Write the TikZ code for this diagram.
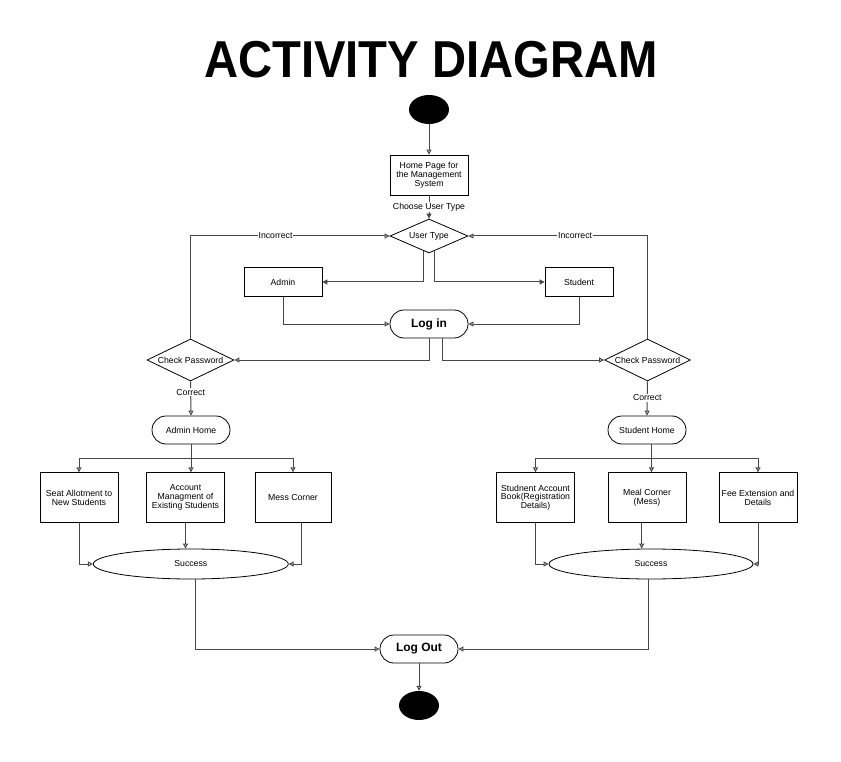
\documentclass[tikz,border=0pt]{standalone}
\usepackage{fontspec}
\setmainfont{Liberation Sans}
\usetikzlibrary{shapes.geometric,arrows.meta}

\begin{document}
\begin{tikzpicture}[x=1pt,y=-1pt,
  every node/.style={align=center, inner sep=0pt, font=\fontsize{8.7}{8.8}\selectfont},
  box/.style={draw=black, line width=0.8pt, rectangle},
  pill/.style={draw=black, line width=0.8pt, rectangle, rounded corners=14pt, minimum width=78pt, minimum height=28pt},
  decision/.style={draw=black, line width=0.8pt, diamond},
  oval/.style={draw=black, line width=0.8pt, ellipse, minimum height=30pt},
  dot/.style={fill=black, ellipse, minimum width=40pt, minimum height=29pt},
  conn/.style={draw=black!72, line width=1pt},
  opentip/.style={-{Triangle[open,length=5pt,width=5pt]}},
  filltip/.style={-{Triangle[length=5pt,width=5pt]}},
  lbl/.style={fill=white, inner sep=1pt}
]
% canvas
\fill[white] (0,0) rectangle (841,762);
\useasboundingbox (0,0) rectangle (841,762);

% heading
\node (title) at (431,60) {\scalebox{1}[1.1]{\fontsize{47.2}{47.2}\selectfont\bfseries ACTIVITY DIAGRAM}};

% top part
\node[dot] (start) at (429,109.5) {};
\node[box, minimum width=78pt, minimum height=40pt] (home) at (429,175) {Home Page for\\the Management\\System};
\node[decision, minimum width=78pt, minimum height=34pt, label=center:User Type] (utype) at (429,236) {};
\node[box, minimum width=78pt, minimum height=28.5pt] (admin) at (283,282) {Admin};
\node[box, minimum width=68pt, minimum height=28.5pt] (student) at (579,282) {Student};
\node[pill, font=\fontsize{12}{12}\selectfont\bfseries] (login) at (429,324) {Log in};
\node[decision, minimum width=87pt, minimum height=42pt, label=center:Check Password] (cpL) at (190.5,360) {};
\node[decision, minimum width=86pt, minimum height=42pt, label=center:Check Password] (cpR) at (647.5,360) {};

% admin side
\node[pill] (adminHome) at (191,430) {Admin Home};
\node[box, minimum width=78pt, minimum height=50pt] (seat) at (79,497.7) {Seat Allotment to\\New Students};
\node[box, minimum width=78pt, minimum height=50pt] (account) at (185.5,497.7) {Account\\Managment of\\Existing Students};
\node[box, minimum width=76pt, minimum height=50pt] (mess) at (293,497.7) {Mess Corner};
\node[oval, minimum width=195pt] (lsucc) at (190.8,564) {Success};

% student side
\node[pill] (studentHome) at (647,430) {Student Home};
\node[box, minimum width=78pt, minimum height=50pt] (studacc) at (535.5,497.7) {Studnent Account\\Book(Registration\\Details)};
\node[box, minimum width=78pt, minimum height=50pt] (meal) at (647,497.7) {Meal Corner\\(Mess)};
\node[box, minimum width=78pt, minimum height=50pt] (fee) at (758,497.7) {Fee Extension and\\Details};
\node[oval, minimum width=204pt] (rsucc) at (651,564) {Success};

% bottom part
\node[pill, font=\fontsize{12}{12}\selectfont\bfseries] (logout) at (419,649) {Log Out};
\node[dot] (finish) at (419,705.5) {};

% helper points for off-centre connector ends
\coordinate (shOut) at ([xshift=4.5pt]studentHome.south);
\coordinate (mealOut) at ([xshift=-5.3pt]meal.south);
\coordinate (messOut) at ([xshift=8pt]mess.south);
\coordinate (lsOut) at ([xshift=5pt]lsucc.south);
\coordinate (rsOut) at ([xshift=-3pt]rsucc.south);

% connectors: start to login
\draw[conn, opentip] (start) -- (home);
\draw[conn, filltip] (home) -- node[lbl] {Choose User Type} (utype);
\draw[conn, filltip] (utype.251) |- (admin.east);
\draw[conn, filltip] (utype.289) |- (student.west);
\draw[conn, opentip] (admin.south) |- (login.west);
\draw[conn, opentip] (student.south) |- (login.east);
\draw[conn, opentip] (login.south) |- (cpL.east);
\draw[conn, opentip] ([xshift=13pt]login.south) |- (cpR.west);
\draw[conn, opentip] (cpL.north) |- node[lbl, pos=0.7135] {Incorrect} (utype.west);
\draw[conn, opentip] (cpR.north) |- node[lbl, pos=0.702] {Incorrect} (utype.east);
\draw[conn, opentip] (cpL.south) -- node[lbl, pos=0.32] {Correct} (adminHome.north);
\draw[conn, opentip] (cpR.south) -- node[lbl, pos=0.48] {Correct} (studentHome.north);

% admin branch
\draw[conn, opentip] (adminHome.south) -- ++(0,14) -| (seat.north);
\draw[conn, opentip] (adminHome.south) -- ++(0,14) -| (mess.north);
\draw[conn, opentip] (adminHome.south) -- (adminHome.south |- account.north);
\draw[conn, opentip] (seat.south) |- (lsucc.west);
\draw[conn, opentip] (messOut) |- (lsucc.east);
\draw[conn, opentip] (account.south) -- (account.south |- lsucc.north);

% student branch
\draw[conn, opentip] (shOut) -- ++(0,14) -| (studacc.north);
\draw[conn, opentip] (shOut) -- ++(0,14) -| (fee.north);
\draw[conn, opentip] (shOut) -- (shOut |- meal.north);
\draw[conn, opentip] (studacc.south) |- (rsucc.west);
\draw[conn, opentip] (fee.south) |- (rsucc.east);
\draw[conn, opentip] (mealOut) -- (mealOut |- rsucc.north);

% to logout and end
\draw[conn, opentip] (lsOut) |- (logout.west);
\draw[conn, opentip] (rsOut) |- (logout.east);
\draw[conn, opentip] (logout) -- (finish);
\end{tikzpicture}
\end{document}
